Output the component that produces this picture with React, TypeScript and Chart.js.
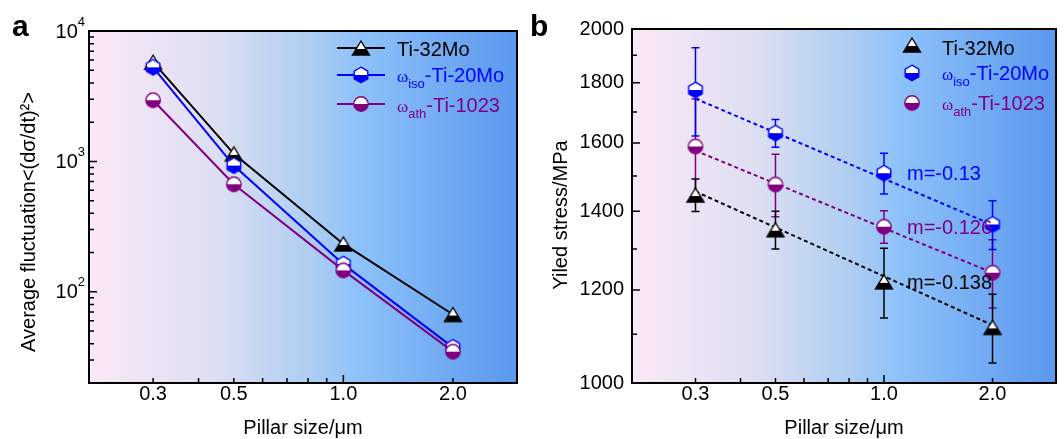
import React, { useEffect, useRef } from 'react';
import { Chart, registerables } from 'chart.js';

Chart.register(...registerables);

const SANS = '"Liberation Sans", Arial, Helvetica, sans-serif';
const SERIF = '"Liberation Serif", "Times New Roman", serif';

const BLACK = '#000000';
const BLUE = '#0000ff';
const PURPLE = '#800080';

// ---------- shared x axis (pillar size, µm) ----------
const pillarSizes = [0.3, 0.5, 1.0, 2.0];
const xTickValues = [0.3, 0.4, 0.5, 0.6, 0.7, 0.8, 0.9, 1.0, 2.0];
const xTickLabels = ['0.3', '', '0.5', '', '', '', '', '1.0', '2.0'];
const xMajorTicks = [1.0];

// ---------- panel a: average fluctuation ----------
const fluctTi32Mo = [5770, 1143, 233, 67];
const fluctTi20Mo = [5266, 929, 163, 37.5];
const fluctTi1023 = [2946, 668, 146, 34.8];
const fluctMajorTicks = [100, 1000, 10000];
const fluctTickExponents = ['2', '3', '4'];
const fluctMinorTicks = [20, 30, 40, 50, 60, 70, 80, 90, 200, 300, 400, 500, 600, 700, 800, 900, 2000, 3000, 4000, 5000, 6000, 7000, 8000, 9000];

// ---------- panel b: yield stress ----------
const stressTi32Mo = [1445, 1350, 1219, 1115];
const stressErrTi32Mo = [46, 50, 83, 75];
const stressTi20Mo = [1775, 1631, 1508, 1364];
const stressErrTi20Mo = [153, 44, 60, 65];
const stressTi1023 = [1589, 1475, 1358, 1241];
const stressErrTi1023 = [155, 90, 43, 83];
const fitSizes = [0.3, 2.0];
const fitTi32Mo = [1455, 1120];
const fitTi20Mo = [1745, 1363];
const fitTi1023 = [1576, 1241];
const slopeTi32Mo = 'm=-0.138';
const slopeTi20Mo = 'm=-0.13';
const slopeTi1023 = 'm=-0.126';
const stressTickValues = [1000, 1100, 1200, 1300, 1400, 1500, 1600, 1700, 1800, 1900, 2000];
const stressTickLabels = ['1000', '', '1200', '', '1400', '', '1600', '', '1800', '', '2000'];
const stressMajorTicks = [1000, 1200, 1400, 1600, 1800, 2000];

type Part = { t: string; size: number; family?: string; dy?: number };

function makeMarker(kind: 'tri' | 'hex' | 'circle', color: string): HTMLCanvasElement {
  const S = 22;
  const c = document.createElement('canvas');
  c.width = S;
  c.height = S;
  const ctx = c.getContext('2d')!;
  const cx = S / 2;
  const cy = S / 2;
  ctx.beginPath();
  if (kind === 'tri') {
    const w = 17;
    const h = 14;
    ctx.moveTo(cx, cy - h / 2);
    ctx.lineTo(cx + w / 2, cy + h / 2);
    ctx.lineTo(cx - w / 2, cy + h / 2);
    ctx.closePath();
  } else if (kind === 'hex') {
    const r = 7.8;
    for (let i = 0; i < 6; i++) {
      const a = -Math.PI / 2 + (i * Math.PI) / 3;
      const px = cx + r * Math.cos(a);
      const py = cy + r * Math.sin(a);
      if (i === 0) ctx.moveTo(px, py);
      else ctx.lineTo(px, py);
    }
    ctx.closePath();
  } else {
    ctx.arc(cx, cy, 7.2, 0, Math.PI * 2);
  }
  ctx.save();
  ctx.clip();
  ctx.fillStyle = '#ffffff';
  ctx.fillRect(0, 0, S, S);
  ctx.fillStyle = color;
  ctx.fillRect(0, cy + (kind === 'tri' ? 1 : 0), S, S);
  ctx.restore();
  ctx.lineWidth = 1.4;
  ctx.strokeStyle = color;
  ctx.stroke();
  return c;
}

function drawRich(ctx: CanvasRenderingContext2D, x: number, baseline: number, parts: Part[], color: string) {
  ctx.save();
  ctx.fillStyle = color;
  ctx.textAlign = 'left';
  ctx.textBaseline = 'alphabetic';
  let cx = x;
  for (const p of parts) {
    ctx.font = `${p.size}px ${p.family || SANS}`;
    ctx.fillText(p.t, cx, baseline + (p.dy || 0));
    cx += ctx.measureText(p.t).width;
  }
  ctx.restore();
}

function drawBackground(chart: any) {
  const { ctx, chartArea: ca } = chart;
  ctx.save();
  const g = ctx.createLinearGradient(ca.left, 0, ca.right, 0);
  g.addColorStop(0, '#fbe8f7');
  g.addColorStop(0.3, '#dcdff2');
  g.addColorStop(0.52, '#adcdf2');
  g.addColorStop(0.62, '#90c3fa');
  g.addColorStop(1, '#5a98ee');
  ctx.fillStyle = g;
  ctx.fillRect(ca.left, ca.top, ca.width, ca.height);
  ctx.restore();
}

function drawFrameAndTicks(chart: any, yMajor: number[], yMinor: number[]) {
  const { ctx, chartArea: ca, scales } = chart;
  ctx.save();
  ctx.strokeStyle = '#000';
  ctx.lineWidth = 1.5;
  ctx.beginPath();
  xTickValues.forEach((v) => {
    const px = scales.x.getPixelForValue(v);
    const len = xMajorTicks.includes(v) ? 8 : 5;
    ctx.moveTo(px, ca.bottom);
    ctx.lineTo(px, ca.bottom - len);
  });
  yMajor.forEach((v) => {
    const py = scales.y.getPixelForValue(v);
    ctx.moveTo(ca.left, py);
    ctx.lineTo(ca.left + 8, py);
  });
  yMinor.forEach((v) => {
    const py = scales.y.getPixelForValue(v);
    ctx.moveTo(ca.left, py);
    ctx.lineTo(ca.left + 5, py);
  });
  ctx.stroke();
  ctx.lineWidth = 2;
  ctx.strokeRect(ca.left, ca.top, ca.width, ca.height);
  ctx.restore();
}

function drawVerticalTitle(ctx: CanvasRenderingContext2D, x: number, y: number, text: string) {
  ctx.save();
  ctx.translate(x, y);
  ctx.rotate(-Math.PI / 2);
  ctx.font = `20px ${SANS}`;
  ctx.fillStyle = '#000';
  ctx.textAlign = 'center';
  ctx.textBaseline = 'middle';
  ctx.fillText(text, 0, 0);
  ctx.restore();
}

function drawPanelLetter(ctx: CanvasRenderingContext2D, x: number, letter: string) {
  ctx.save();
  ctx.font = `bold 30px ${SANS}`;
  ctx.fillStyle = '#000';
  ctx.textAlign = 'left';
  ctx.textBaseline = 'alphabetic';
  ctx.fillText(letter, x, 36);
  ctx.restore();
}

const xScaleBase = (height: number) => ({
  type: 'logarithmic' as const,
  min: 0.2,
  max: 3.0,
  border: { display: false },
  grid: { display: false, drawTicks: false, tickLength: 0 },
  afterBuildTicks: (scale: any) => {
    scale.ticks = xTickValues.map((value) => ({ value }));
  },
  afterFit: (scale: any) => {
    scale.height = height;
  },
  ticks: {
    autoSkip: false,
    maxRotation: 0,
    padding: 1,
    color: '#000',
    font: { family: SANS, size: 20, lineHeight: 1 },
    callback: (value: any) => {
      const i = xTickValues.indexOf(Number(value));
      return i >= 0 ? xTickLabels[i] : '';
    },
  },
  title: {
    display: true,
    text: 'Pillar size/\u03bcm',
    color: '#000',
    font: { family: SANS, size: 20, lineHeight: 1 },
    padding: { top: 0, bottom: 1 },
  },
});

export default function App() {
  const refA = useRef<HTMLCanvasElement>(null);
  const refB = useRef<HTMLCanvasElement>(null);

  useEffect(() => {
    const triBlack = makeMarker('tri', BLACK);
    const hexBlue = makeMarker('hex', BLUE);
    const circPurple = makeMarker('circle', PURPLE);

    const pts = (xs: number[], ys: number[]) => xs.map((x, i) => ({ x, y: ys[i] }));

    // ---------------- panel a ----------------
    const pluginA = {
      id: 'panelA',
      beforeDraw: (chart: any) => drawBackground(chart),
      afterDraw: (chart: any) => {
        const { ctx, chartArea: ca, scales } = chart;
        drawFrameAndTicks(chart, fluctMajorTicks, fluctMinorTicks);
        ctx.save();
        ctx.fillStyle = '#000';
        ctx.textBaseline = 'middle';
        fluctMajorTicks.forEach((v, i) => {
          const py = scales.y.getPixelForValue(v);
          const right = ca.left - 4;
          ctx.font = `13px ${SANS}`;
          const supW = ctx.measureText(fluctTickExponents[i]).width;
          ctx.textAlign = 'left';
          ctx.fillText(fluctTickExponents[i], right - supW, py - 9);
          ctx.font = `20px ${SANS}`;
          ctx.textAlign = 'right';
          ctx.fillText('10', right - supW, py + 1);
        });
        ctx.restore();
        drawVerticalTitle(ctx, 29, 222, 'Average fluctuation<(d\u03c3/dt)\u00b2>');
        drawPanelLetter(ctx, 12, 'a');
        const rows = [
          { img: triBlack, color: BLACK, y: 48, base: 56, parts: [{ t: 'Ti-32Mo', size: 20 }] },
          {
            img: hexBlue, color: BLUE, y: 75, base: 82,
            parts: [{ t: '\u03c9', size: 17, family: SERIF }, { t: 'iso', size: 13, dy: 6 }, { t: '-Ti-20Mo', size: 20 }],
          },
          {
            img: circPurple, color: PURPLE, y: 104, base: 112,
            parts: [{ t: '\u03c9', size: 17, family: SERIF }, { t: 'ath', size: 13, dy: 6 }, { t: '-Ti-1023', size: 20 }],
          },
        ];
        rows.forEach((r) => {
          ctx.save();
          ctx.strokeStyle = r.color;
          ctx.lineWidth = 2;
          ctx.beginPath();
          ctx.moveTo(337, r.y);
          ctx.lineTo(385, r.y);
          ctx.stroke();
          ctx.drawImage(r.img, 361 - r.img.width / 2, r.y - r.img.height / 2);
          ctx.restore();
          drawRich(ctx, 397, r.base, r.parts, r.color);
        });
      },
    };

    const lineDs = (label: string, ys: number[], color: string, img: HTMLCanvasElement, order: number) => ({
      label,
      data: pts(pillarSizes, ys),
      showLine: true,
      borderColor: color,
      borderWidth: 2,
      pointStyle: img,
      pointRadius: 7,
      order,
    });

    const chartA = new Chart(refA.current!, {
      type: 'scatter',
      data: {
        datasets: [
          lineDs('Ti-32Mo', fluctTi32Mo, BLACK, triBlack, 2),
          lineDs('\u03c9iso-Ti-20Mo', fluctTi20Mo, BLUE, hexBlue, 1),
          lineDs('\u03c9ath-Ti-1023', fluctTi1023, PURPLE, circPurple, 0),
        ],
      },
      options: {
        responsive: false,
        animation: false,
        events: [],
        layout: { padding: { top: 31, right: 5, bottom: 0, left: 0 } },
        plugins: { legend: { display: false }, tooltip: { enabled: false } },
        scales: {
          x: xScaleBase(56) as any,
          y: {
            type: 'logarithmic',
            min: 20,
            max: 10000,
            border: { display: false },
            grid: { display: false, drawTicks: false, tickLength: 0 },
            ticks: { display: false },
            afterFit: (scale: any) => {
              scale.width = 89;
            },
          },
        },
      },
      plugins: [pluginA],
    } as any);

    // ---------------- panel b ----------------
    const errSeries = [
      { v: stressTi1023, e: stressErrTi1023, color: PURPLE },
      { v: stressTi20Mo, e: stressErrTi20Mo, color: BLUE },
      { v: stressTi32Mo, e: stressErrTi32Mo, color: BLACK },
    ];
    const pluginB = {
      id: 'panelB',
      beforeDraw: (chart: any) => drawBackground(chart),
      beforeDatasetsDraw: (chart: any) => {
        const { ctx, scales } = chart;
        ctx.save();
        ctx.lineWidth = 1.5;
        errSeries.forEach((s) => {
          ctx.strokeStyle = s.color;
          ctx.beginPath();
          s.v.forEach((v, i) => {
            const px = scales.x.getPixelForValue(pillarSizes[i]);
            const top = scales.y.getPixelForValue(v + s.e[i]);
            const bot = scales.y.getPixelForValue(v - s.e[i]);
            ctx.moveTo(px, top);
            ctx.lineTo(px, bot);
            ctx.moveTo(px - 4, top);
            ctx.lineTo(px + 4, top);
            ctx.moveTo(px - 4, bot);
            ctx.lineTo(px + 4, bot);
          });
          ctx.stroke();
        });
        ctx.restore();
      },
      afterDraw: (chart: any) => {
        const { ctx, scales } = chart;
        drawFrameAndTicks(chart, stressMajorTicks, stressTickValues.filter((v) => !stressMajorTicks.includes(v)));
        drawVerticalTitle(ctx, 35, 215, 'Yiled stress/MPa');
        drawPanelLetter(ctx, 4, 'b');
        const ax = scales.x.getPixelForValue(1.0) + 23;
        const ann = [
          { t: slopeTi20Mo, v: stressTi20Mo[2], color: BLUE },
          { t: slopeTi1023, v: stressTi1023[2], color: PURPLE },
          { t: slopeTi32Mo, v: stressTi32Mo[2], color: BLACK },
        ];
        ann.forEach((a) => {
          const py = scales.y.getPixelForValue(a.v);
          drawRich(ctx, ax, py + 7, [{ t: a.t, size: 20 }], a.color);
        });
        const rows = [
          { img: triBlack, color: BLACK, y: 45, base: 55, parts: [{ t: 'Ti-32Mo', size: 20 }] },
          {
            img: hexBlue, color: BLUE, y: 73, base: 80,
            parts: [{ t: '\u03c9', size: 17, family: SERIF }, { t: 'iso', size: 13, dy: 6 }, { t: '-Ti-20Mo', size: 20 }],
          },
          {
            img: circPurple, color: PURPLE, y: 103, base: 110,
            parts: [{ t: '\u03c9', size: 17, family: SERIF }, { t: 'ath', size: 13, dy: 6 }, { t: '-Ti-1023', size: 20 }],
          },
        ];
        rows.forEach((r) => {
          ctx.drawImage(r.img, 386 - r.img.width / 2, r.y - r.img.height / 2);
          drawRich(ctx, 416, r.base, r.parts, r.color);
        });
      },
    };

    const scatterDs = (label: string, ys: number[], img: HTMLCanvasElement, order: number) => ({
      label,
      data: pts(pillarSizes, ys),
      showLine: false,
      pointStyle: img,
      pointRadius: 7,
      order,
    });
    const fitDs = (label: string, ys: number[], color: string) => ({
      label,
      data: pts(fitSizes, ys),
      showLine: true,
      borderColor: color,
      borderWidth: 2,
      borderDash: [4, 3],
      pointRadius: 0,
      order: 10,
    });

    const chartB = new Chart(refB.current!, {
      type: 'scatter',
      data: {
        datasets: [
          fitDs('fit Ti-32Mo', fitTi32Mo, BLACK),
          fitDs('fit Ti-20Mo', fitTi20Mo, BLUE),
          fitDs('fit Ti-1023', fitTi1023, PURPLE),
          scatterDs('Ti-32Mo', stressTi32Mo, triBlack, 2),
          scatterDs('\u03c9iso-Ti-20Mo', stressTi20Mo, hexBlue, 1),
          scatterDs('\u03c9ath-Ti-1023', stressTi1023, circPurple, 0),
        ],
      },
      options: {
        responsive: false,
        animation: false,
        events: [],
        layout: { padding: { top: 29, right: 1, bottom: 0, left: 0 } },
        plugins: { legend: { display: false }, tooltip: { enabled: false } },
        scales: {
          x: xScaleBase(56) as any,
          y: {
            type: 'logarithmic',
            min: 1000,
            max: 2000,
            border: { display: false },
            grid: { display: false, drawTicks: false, tickLength: 0 },
            afterBuildTicks: (scale: any) => {
              scale.ticks = stressTickValues.map((value) => ({ value }));
            },
            afterFit: (scale: any) => {
              scale.width = 106;
            },
            ticks: {
              autoSkip: false,
              padding: 8,
              color: '#000',
              font: { family: SANS, size: 20, lineHeight: 1 },
              callback: (value: any) => {
                const i = stressTickValues.indexOf(Number(value));
                return i >= 0 ? stressTickLabels[i] : '';
              },
            },
          },
        },
      },
      plugins: [pluginB],
    } as any);

    return () => {
      chartA.destroy();
      chartB.destroy();
    };
  }, []);

  return (
    <div style={{ position: 'absolute', left: 0, top: 0, width: 1064, height: 439, background: '#ffffff' }}>
      <canvas ref={refA} width={526} height={439} style={{ position: 'absolute', left: 0, top: 0 }} />
      <canvas ref={refB} width={538} height={439} style={{ position: 'absolute', left: 526, top: 0 }} />
    </div>
  );
}
